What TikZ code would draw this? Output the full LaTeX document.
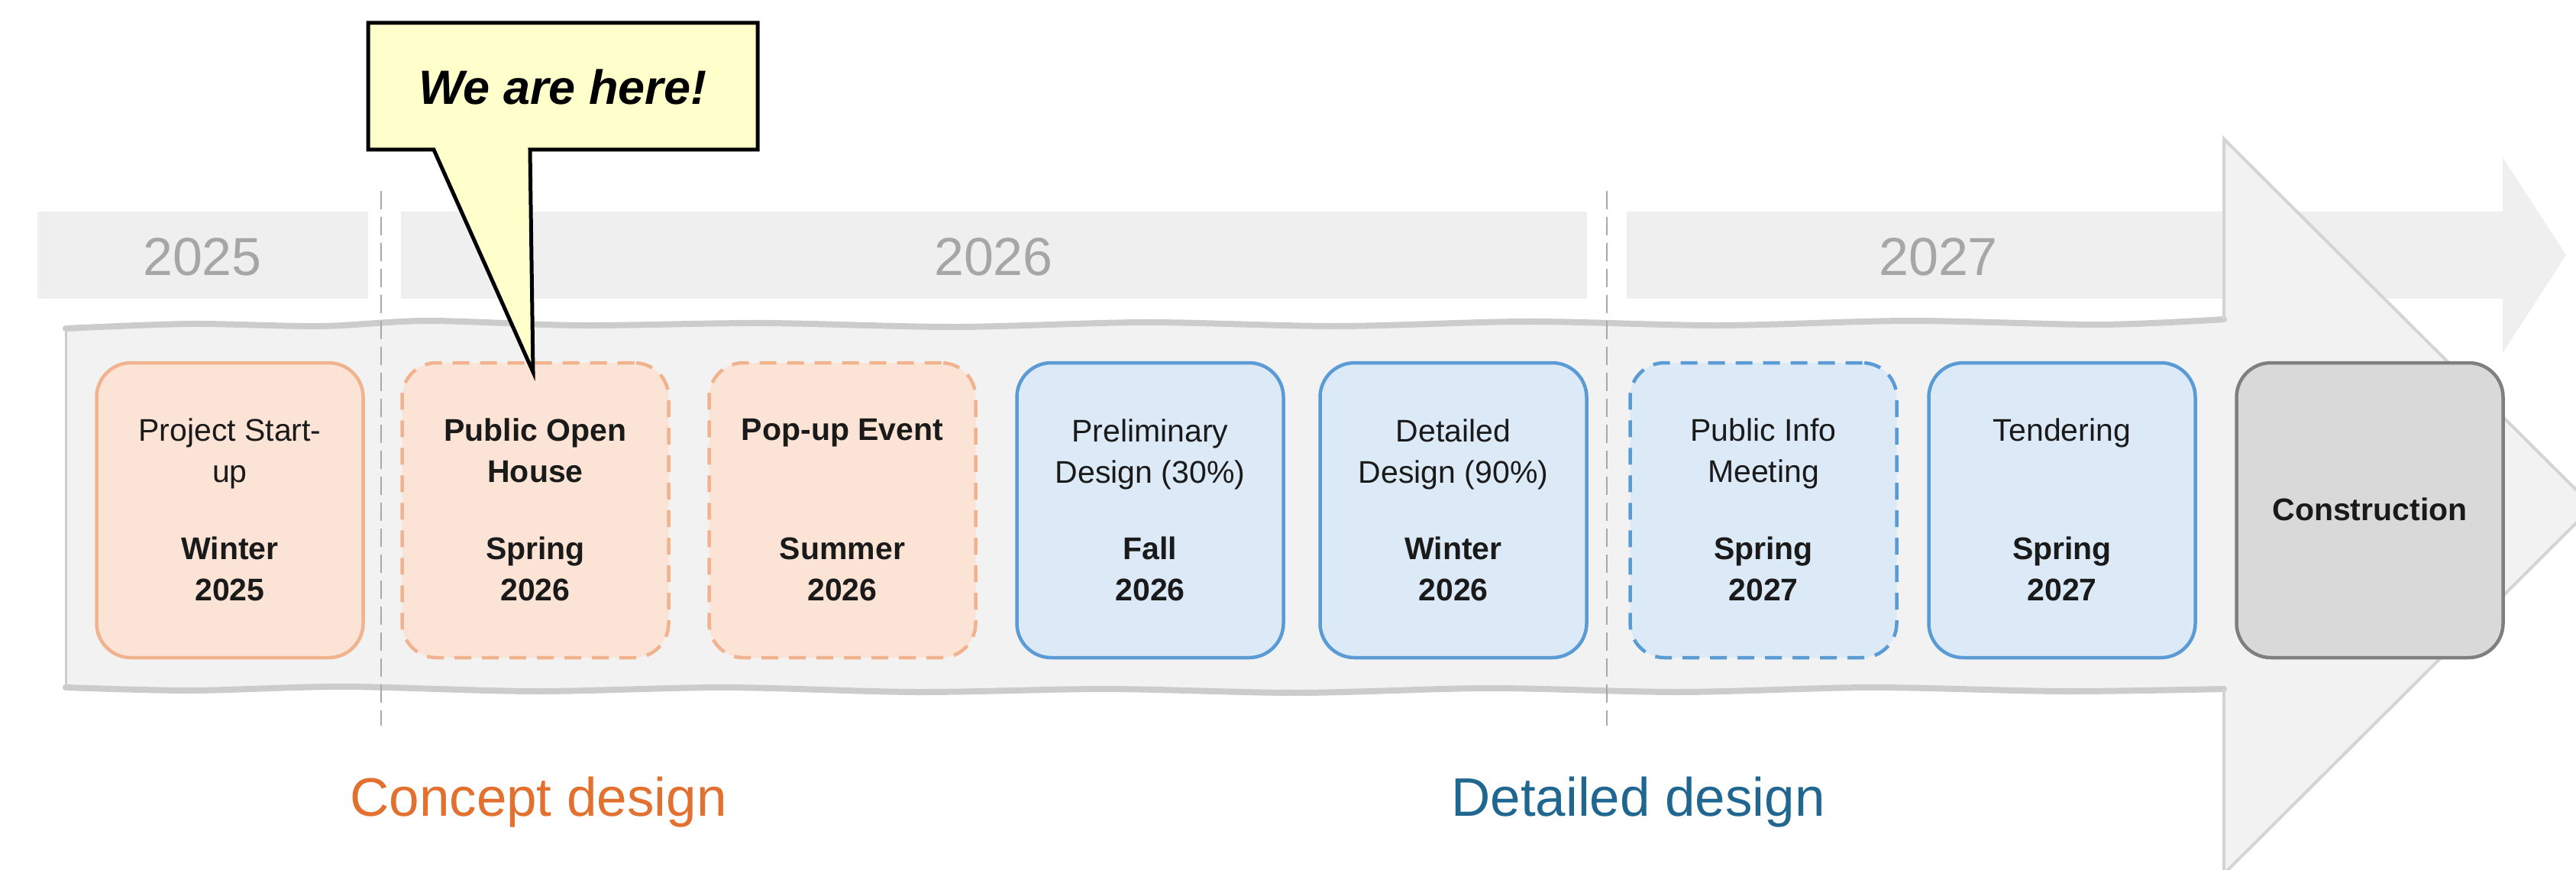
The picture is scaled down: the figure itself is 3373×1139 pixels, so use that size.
\documentclass[tikz,border=0pt]{standalone}
\usepackage{fontspec}
\setmainfont{Liberation Sans}
\definecolor{bandgrey}{HTML}{EFEFEF}
\definecolor{arrowfill}{HTML}{F2F2F2}
\definecolor{edgegrey}{HTML}{CCCCCC}
\definecolor{headgrey}{HTML}{D4D4D4}
\definecolor{yeargrey}{HTML}{A6A6A6}
\definecolor{sepgrey}{HTML}{A8A8A8}
\definecolor{orangeline}{HTML}{F1B38E}
\definecolor{orangefill}{HTML}{FBE3D6}
\definecolor{blueline}{HTML}{5B9BD5}
\definecolor{bluefill}{HTML}{DCE9F6}
\definecolor{greyline}{HTML}{7F7F7F}
\definecolor{greyfill}{HTML}{D9D9D9}
\definecolor{calloutfill}{HTML}{FFFFCC}
\definecolor{conceptorange}{HTML}{E2702F}
\definecolor{detailblue}{HTML}{1F6690}
\definecolor{textblack}{HTML}{1A1A1A}
\begin{document}
\begin{tikzpicture}[x=1pt,y=-1pt,
  evbox/.style={rounded corners=45pt, minimum width=349pt, minimum height=386pt, line width=4.5pt, inner sep=0pt},
  orangebox/.style={evbox, draw=orangeline, fill=orangefill},
  bluebox/.style={evbox, draw=blueline, fill=bluefill},
  greybox/.style={evbox, draw=greyline, fill=greyfill},
  dashedbox/.style={dash pattern=on 22pt off 14pt},
  ttl/.style={font=\fontsize{41}{54}\selectfont, align=center, text=textblack, inner sep=0pt},
  ttlbold/.style={font=\fontsize{41}{54}\selectfont\bfseries, align=center, text=textblack, inner sep=0pt},
  yearlbl/.style={font=\fontsize{70}{84}\selectfont, text=yeargrey, inner sep=0pt},
  phase/.style={font=\fontsize{71}{85}\selectfont, inner sep=0pt},
  sepline/.style={draw=sepgrey, line width=2.5pt, dash pattern=on 24pt off 10pt},
  calloutshape/.style={draw=black, fill=calloutfill, line width=5pt, line join=miter},
  heretext/.style={font=\fontsize{63}{75}\selectfont\bfseries\itshape, text=black, inner sep=0pt}
]
\path[use as bounding box] (0,0) rectangle (3373,1139);
\clip (0,0) rectangle (3373,1139);

% year band
\fill[bandgrey] (49,277) rectangle (482,391);
\fill[bandgrey] (525,277) rectangle (2078,391);
\fill[bandgrey] (2130,277) -- (3277,277) -- (3277,206) -- (3360,334) -- (3277,462) -- (3277,391) -- (2130,391) -- cycle;
\node[yearlbl] (y25) at (265,336) {2025};
\node[yearlbl] (y26) at (1301,336) {2026};
\node[yearlbl] (y27) at (2538,336) {2027};

% big arrow
\fill[arrowfill] (86,430) -- plot[smooth] coordinates {(86,430) (250,424) (420,427) (560,420) (760,426) (1000,423) (1250,428) (1500,422) (1750,427) (2000,421) (2250,426) (2500,420) (2750,425) (2912,418)}
  -- (2912,182) -- (3395,663) -- (2912,1144) -- (2912,902)
  -- plot[smooth] coordinates {(2912,902) (2700,905) (2450,900) (2200,906) (1950,901) (1700,907) (1450,902) (1200,906) (950,900) (700,905) (450,899) (250,904) (86,900)} -- cycle;
\draw[edgegrey, line width=8pt, line cap=round] plot[smooth] coordinates {(86,430) (250,424) (420,427) (560,420) (760,426) (1000,423) (1250,428) (1500,422) (1750,427) (2000,421) (2250,426) (2500,420) (2750,425) (2912,418)};
\draw[edgegrey, line width=8pt, line cap=round] plot[smooth] coordinates {(2912,902) (2700,905) (2450,900) (2200,906) (1950,901) (1700,907) (1450,902) (1200,906) (950,900) (700,905) (450,899) (250,904) (86,900)};
\draw[edgegrey, line width=3pt] (86,430) -- (86,900);
\draw[headgrey, line width=4pt, line join=miter] (2912,418) -- (2912,182) -- (3395,663) -- (2912,1144) -- (2912,902);

% separators
\draw[sepline] (499,250) -- (499,950);
\draw[sepline] (2104,250) -- (2104,950);

% event boxes
\node[orangebox] (b1) at (301,668) {};
\node[orangebox, dashedbox] (b2) at (701,668) {};
\node[orangebox, dashedbox] (b3) at (1103,668) {};
\node[bluebox] (b4) at (1506,668) {};
\node[bluebox] (b5) at (1903,668) {};
\node[bluebox, dashedbox] (b6) at (2309,668) {};
\node[bluebox] (b7) at (2700,668) {};
\node[greybox] (b8) at (3103,668) {};

% box texts
\node[ttl] (t1) at (301,594) {Project Start-\\up};
\node[ttlbold] (d1) at (301,745) {Winter\\2025};
\node[ttlbold] (t2) at (701,590) {Public Open\\House};
\node[ttlbold] (d2) at (701,745) {Spring\\2026};
\node[ttlbold] (t3) at (1103,567) {Pop-up Event};
\node[ttlbold] (d3) at (1103,745) {Summer\\2026};
\node[ttl] (t4) at (1506,595) {Preliminary\\Design (30\%)};
\node[ttlbold] (d4) at (1506,745) {Fall\\2026};
\node[ttl] (t5) at (1903,595) {Detailed\\Design (90\%)};
\node[ttlbold] (d5) at (1903,745) {Winter\\2026};
\node[ttl] (t6) at (2309,594) {Public Info\\Meeting};
\node[ttlbold] (d6) at (2309,745) {Spring\\2027};
\node[ttl] (t7) at (2700,567) {Tendering};
\node[ttlbold] (d7) at (2700,745) {Spring\\2027};
\node[ttlbold] (t8) at (3103,667) {Construction};

% callout
\coordinate (cnw) at (482,30);
\coordinate (cne) at (992,30);
\coordinate (cse) at (992,196);
\coordinate (cpr) at (694,196);
\coordinate (ctip) at (698,487);
\coordinate (cpl) at (568,196);
\coordinate (csw) at (482,196);
\draw[calloutshape] (cnw) -- (cne) -- (cse) -- (cpr) -- (ctip) -- (cpl) -- (csw) -- cycle;
\node[heretext] (here) at (737,114) {We are here!};

% phase labels
\node[phase, text=conceptorange] (concept) at (705,1050) {Concept design};
\node[phase, text=detailblue] (detailed) at (2145,1050) {Detailed design};
\end{tikzpicture}
\end{document}
